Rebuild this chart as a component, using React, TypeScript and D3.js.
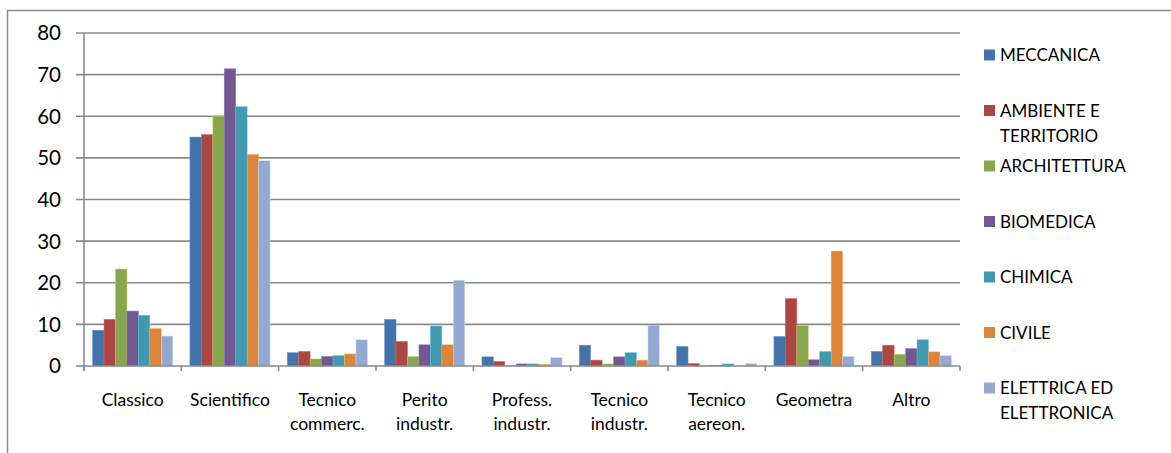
import React from "react";
import * as d3 from "d3";

const categories: string[][] = [
  ["Classico"],
  ["Scientifico"],
  ["Tecnico", "commerc."],
  ["Perito", "industr."],
  ["Profess.", "industr."],
  ["Tecnico", "industr."],
  ["Tecnico", "aereon."],
  ["Geometra"],
  ["Altro"],
];

const seriesNames: string[][] = [
  ["MECCANICA"],
  ["AMBIENTE E", "TERRITORIO"],
  ["ARCHITETTURA"],
  ["BIOMEDICA"],
  ["CHIMICA"],
  ["CIVILE"],
  ["ELETTRICA ED", "ELETTRONICA"],
];

const meccanica = [8.6, 55.0, 3.2, 11.2, 2.2, 5.0, 4.7, 7.1, 3.5];
const ambiente = [11.2, 55.6, 3.5, 5.9, 1.1, 1.4, 0.6, 16.2, 5.0];
const architettura = [23.3, 60.0, 1.7, 2.3, 0.1, 0.5, 0.2, 9.7, 2.8];
const biomedica = [13.2, 71.4, 2.3, 5.1, 0.5, 2.2, 0.2, 1.5, 4.2];
const chimica = [12.2, 62.3, 2.5, 9.6, 0.5, 3.2, 0.5, 3.5, 6.3];
const civile = [9.0, 50.8, 2.9, 5.1, 0.4, 1.4, 0.0, 27.6, 3.4];
const elettrica = [7.2, 49.3, 6.3, 20.6, 2.0, 9.8, 0.6, 2.3, 2.5];

const yTicks = [0, 10, 20, 30, 40, 50, 60, 70, 80];

const colors = ["#4572A7", "#AA4643", "#89A54E", "#71588F", "#4198AF", "#DB843D", "#93A9CF"];

const allSeries = [meccanica, ambiente, architettura, biomedica, chimica, civile, elettrica];

export default function App() {
  const W = 1171, H = 453;
  const left = 84, right = 960, top = 33, bottom = 366;
  const font = "Lato, 'Open Sans', sans-serif";

  const x = d3.scaleBand<number>().domain(categories.map((_, i) => i)).range([left, right]).padding(0);
  const bw = x.bandwidth();
  const n = allSeries.length;
  const barW = bw / (n + 1.5);
  const xs = d3.scaleBand<number>().domain(d3.range(n)).range([0.75 * barW, bw - 0.75 * barW]).padding(0);
  const y = d3.scaleLinear().domain([0, 80]).range([bottom, top]);
  const grid = "#8a8a8a";

  return (
    <svg width={W} height={H} style={{ position: "absolute", left: 0, top: 0, background: "#fff" }}>
      <rect x={7.5} y={10.5} width={W + 10} height={H + 10} fill="#fff" stroke="#8c8c8c" strokeWidth={1.5} />
      {yTicks.map((t) => (
        <g key={t}>
          <line x1={76} x2={t === 0 ? left : right} y1={y(t)} y2={y(t)} stroke={grid} strokeWidth={1.6} />
          <text x={61} y={y(t)} dy="0.36em" textAnchor="end" fontFamily={font} fontSize={20.5} fill="#000">
            {t}
          </text>
        </g>
      ))}
      {allSeries.map((s, si) =>
        s.map((v, ci) => (
          <rect
            key={`${si}-${ci}`}
            x={(x(ci) as number) + (xs(si) as number)}
            y={y(v)}
            width={xs.bandwidth()}
            height={bottom - y(v)}
            fill={colors[si]}
            stroke={d3.color(colors[si])!.brighter(0.8).toString()}
            strokeWidth={0.6}
            strokeOpacity={0.8}
          />
        ))
      )}
      <line x1={left} x2={left} y1={top} y2={bottom + 4} stroke={grid} strokeWidth={1.6} />
      <line x1={left} x2={right} y1={bottom} y2={bottom} stroke={grid} strokeWidth={1.6} />
      {d3.range(categories.length + 1).map((i) => {
        const xx = left + i * bw;
        return <line key={i} x1={xx} x2={xx} y1={bottom} y2={bottom + 5} stroke={grid} strokeWidth={1.6} />;
      })}
      {categories.map((lines, ci) => (
        <text key={ci} textAnchor="middle" fontFamily={font} fontSize={17.5} fill="#000">
          {lines.map((l, li) => (
            <tspan key={li} x={(x(ci) as number) + bw / 2} y={405.5 + li * 24.5}>
              {l}
            </tspan>
          ))}
        </text>
      ))}
      {seriesNames.map((lines, si) => {
        const cy = 55 + si * 55.5;
        return (
          <g key={si}>
            <rect x={984} y={cy - 5.5} width={11} height={11} fill={colors[si]} />
            <text fontFamily={font} fontSize={17} fill="#000">
              {lines.map((l, li) => (
                <tspan key={li} x={1000} y={cy + 6 + li * 25}>
                  {l}
                </tspan>
              ))}
            </text>
          </g>
        );
      })}
    </svg>
  );
}
